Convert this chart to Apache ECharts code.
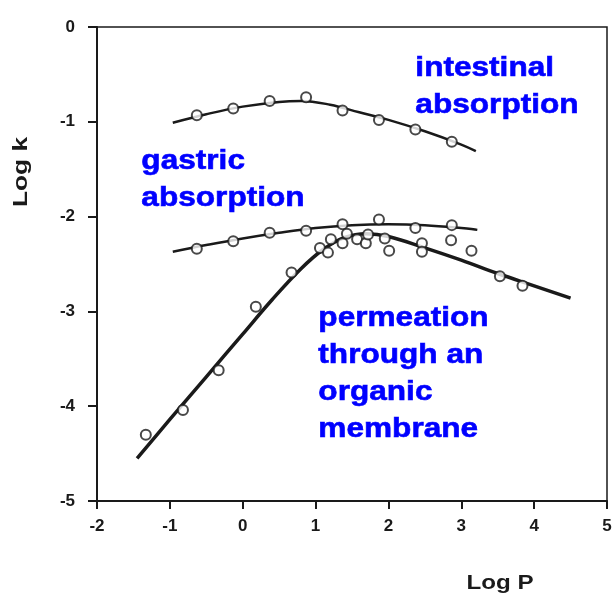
<!DOCTYPE html>
<html>
<head>
<meta charset="utf-8">
<script src="https://cdn.jsdelivr.net/npm/echarts@6/dist/echarts.min.js"></script>
<style>html,body{margin:0;padding:0;background:#fff}#c{width:616px;height:601px}</style>
</head>
<body>
<div id="c"></div>
<script>
// ---- data ----
const xTicks = [-2, -1, 0, 1, 2, 3, 4, 5];
const yTicks = [-5, -4, -3, -2, -1, 0];

const homologX = [-0.63, -0.13, 0.37, 0.87, 1.37, 1.87, 2.37, 2.87];
const intestinalY = [-0.93, -0.86, -0.78, -0.74, -0.88, -0.98, -1.08, -1.21];
const gastricY = [-2.34, -2.26, -2.17, -2.15, -2.08, -2.03, -2.12, -2.09];

const permX = [-1.33, -0.82, -0.33, 0.18, 0.67, 1.06, 1.17, 1.21, 1.37, 1.43, 1.57, 1.69, 1.72, 1.95, 2.01, 2.46, 2.46, 2.86, 3.14, 3.53, 3.84];
const permY = [-4.30, -4.04, -3.62, -2.95, -2.59, -2.33, -2.38, -2.24, -2.28, -2.18, -2.24, -2.28, -2.19, -2.23, -2.36, -2.28, -2.37, -2.25, -2.36, -2.63, -2.73];

// fitted curves
const intestinalFitX = [-0.96, -0.5, 0, 0.5, 0.8, 1.2, 1.6, 2.0, 2.5, 3.0, 3.2];
const intestinalFitY = [-1.01, -0.92, -0.84, -0.79, -0.78, -0.82, -0.90, -0.98, -1.10, -1.24, -1.31];
const gastricFitX = [-0.96, -0.5, 0, 0.5, 1.0, 1.5, 2.0, 2.5, 3.0, 3.22];
const gastricFitY = [-2.37, -2.30, -2.23, -2.17, -2.12, -2.09, -2.08, -2.09, -2.12, -2.14];
const permFitX = [-1.45, -1.0, -0.5, 0, 0.4, 0.8, 1.1, 1.4, 1.7, 2.0, 2.5, 3.0, 3.5, 4.0, 4.5];
const permFitY = [-4.55, -4.14, -3.69, -3.24, -2.88, -2.55, -2.35, -2.22, -2.18, -2.21, -2.33, -2.46, -2.60, -2.73, -2.86];

const zip = (a, b) => a.map((v, i) => [v, b[i]]);

const ink = '#1a1a1a';
const blue = '#0000ff';
const labelFont = 'Liberation Sans, Arial, Helvetica, sans-serif';

function fitSeries(name, xs, ys, w) {
  return {
    name, type: 'line', data: zip(xs, ys), smooth: 0.4, showSymbol: false, symbol: 'none',
    lineStyle: { color: ink, width: w }, z: 2, silent: true
  };
}
function pointSeries(name, xs, ys) {
  return {
    name, type: 'scatter', data: zip(xs, ys), symbol: 'circle', symbolSize: 10,
    itemStyle: { color: '#fff', borderColor: ink, borderWidth: 2 }, z: 3
  };
}

function blueText(x, y, lines) {
  return {
    type: 'text', left: x, top: y, scaleX: 1.17, scaleY: 1, z: 10,
    style: { text: lines.join('\n'), fill: blue, stroke: blue, lineWidth: 0.6,
      font: 'bold 27px ' + labelFont, lineHeight: 37 }
  };
}

const chart = echarts.init(document.getElementById('c'), null, { renderer: 'canvas' });
chart.setOption({
  animation: false,
  backgroundColor: '#fff',
  grid: { left: 97, top: 27, width: 510, height: 474, show: true, borderColor: ink, borderWidth: 1.5, backgroundColor: 'transparent' },
  xAxis: {
    type: 'value', min: -2, max: 5, interval: 1,
    axisLine: { show: true, onZero: false, lineStyle: { color: ink, width: 2 } },
    axisTick: { show: true, inside: false, length: 8, lineStyle: { color: ink, width: 2 } },
    axisLabel: { color: ink, fontWeight: 'bold', fontSize: 17, fontFamily: labelFont, margin: 17,
      formatter: v => xTicks.includes(v) ? String(v) : '' },
    splitLine: { show: false }
  },
  yAxis: {
    type: 'value', min: -5, max: 0, interval: 1,
    axisLine: { show: true, onZero: false, lineStyle: { color: ink, width: 2 } },
    axisTick: { show: true, inside: false, length: 9, lineStyle: { color: ink, width: 2 } },
    axisLabel: { color: ink, fontWeight: 'bold', fontSize: 17, fontFamily: labelFont, margin: 22,
      formatter: v => yTicks.includes(v) ? String(v) : '' },
    splitLine: { show: false }
  },
  graphic: [
    { type: 'text', x: 11, y: 172, rotation: Math.PI / 2, scaleX: 1.25,
      style: { text: 'Log k', fill: ink, font: 'bold 21px ' + labelFont, align: 'center', verticalAlign: 'top' } },
    { type: 'text', x: 500, y: 583, scaleX: 1.15,
      style: { text: 'Log P', fill: ink, font: 'bold 21px ' + labelFont, align: 'center', verticalAlign: 'middle' } },
    blueText(415, 50, ['intestinal', 'absorption']),
    blueText(141, 143, ['gastric', 'absorption']),
    blueText(318, 300, ['permeation', 'through an', 'organic', 'membrane'])
  ],
  series: [
    fitSeries('intestinal fit', intestinalFitX, intestinalFitY, 2.5),
    fitSeries('gastric fit', gastricFitX, gastricFitY, 2.5),
    fitSeries('membrane fit', permFitX, permFitY, 3.5),
    pointSeries('intestinal absorption', homologX, intestinalY),
    pointSeries('gastric absorption', homologX, gastricY),
    pointSeries('membrane permeation', permX, permY)
  ]
});
</script>
</body>
</html>
